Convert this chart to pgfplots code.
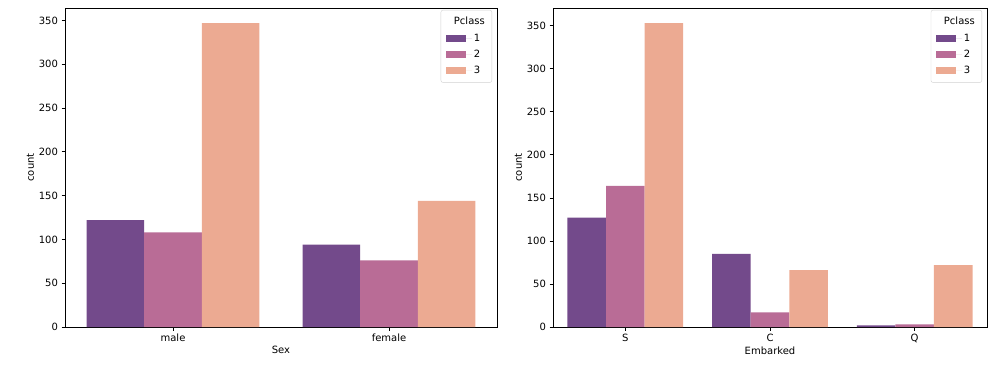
\documentclass[border=0pt]{standalone}
\usepackage{pgfplots}
\pgfplotsset{compat=1.18}
\usepackage{fontspec}
\setmainfont{DejaVu Sans}
\definecolor{cA}{HTML}{734A8B}
\definecolor{cB}{HTML}{B96C96}
\definecolor{cC}{HTML}{ECAA92}
\pgfplotsset{
  mystyle/.style={
    scale only axis, height=319pt,
    ybar, bar width=0.2667, ymin=0,
    ytick={0,50,...,350},
    tick align=outside, tick pos=left,
    major tick length=3.5pt,
    every tick/.style={black, line width=0.8pt},
    axis line style={black, line width=0.8pt},
    font=\fontsize{10}{12}\selectfont,
    /pgf/number format/assume math mode=true,
    ylabel={count},
    ylabel style={yshift=-2pt},
    xlabel style={yshift=3pt},
    legend cell align=left,
    legend image code/.code={\fill[##1, sharp corners] (0pt,-3.5pt) rectangle (20pt,3.5pt);
      \path (0pt,0pt) -- (26pt,0pt);},
    legend style={at={(rel axis cs:1,1)}, anchor=north east, xshift=-5pt, yshift=-2pt,
      draw=black!18, rounded corners=2pt, font=\fontsize{10}{12}\selectfont,
      row sep=3.5pt, inner xsep=5pt, inner ysep=5pt},
  }
}
\begin{document}
\begin{tikzpicture}[x=1pt,y=1pt]
\path[use as bounding box] (0,0) rectangle (998,378);
\begin{axis}[mystyle, at={(65pt,51pt)}, anchor=south west, width=432pt,
  xmin=-0.5, xmax=1.5, ymax=364.35,
  xtick={0,1}, xticklabels={male,female}, xlabel={Sex}]
\addlegendimage{empty legend}\addlegendentry{\hspace*{-20pt}Pclass}
\addplot[fill=cA, draw=none, bar shift=-0.2667] coordinates {(0,122) (1,94)};
\addlegendentry{1}
\addplot[fill=cB, draw=none, bar shift=0] coordinates {(0,108) (1,76)};
\addlegendentry{2}
\addplot[fill=cC, draw=none, bar shift=0.2667] coordinates {(0,347) (1,144)};
\addlegendentry{3}
\end{axis}
\begin{axis}[mystyle, at={(553pt,51pt)}, anchor=south west, width=434pt,
  xmin=-0.5, xmax=2.5, ymax=370.65,
  xtick={0,1,2}, xticklabels={S,C,Q}, xlabel={Embarked}]
\addlegendimage{empty legend}\addlegendentry{\hspace*{-20pt}Pclass}
\addplot[fill=cA, draw=none, bar shift=-0.2667] coordinates {(0,127) (1,85) (2,2)};
\addlegendentry{1}
\addplot[fill=cB, draw=none, bar shift=0] coordinates {(0,164) (1,17) (2,3)};
\addlegendentry{2}
\addplot[fill=cC, draw=none, bar shift=0.2667] coordinates {(0,353) (1,66) (2,72)};
\addlegendentry{3}
\end{axis}
\end{tikzpicture}
\end{document}
